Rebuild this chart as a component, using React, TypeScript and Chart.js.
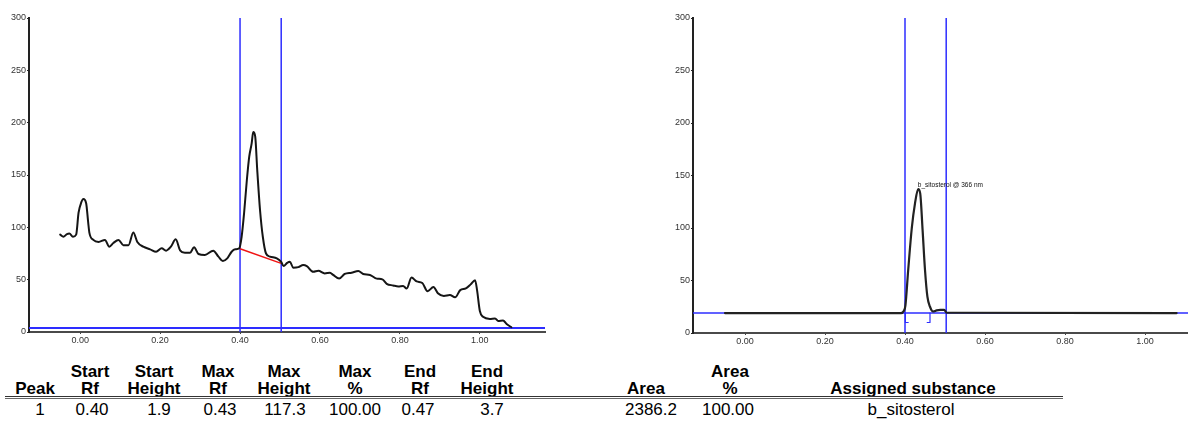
import React, { useEffect, useRef } from "react";
import { Chart, registerables } from "chart.js";

Chart.register(...registerables);

// ---------- data ----------
const leftRf = [
  -0.05, -0.042, -0.033, -0.027, -0.018, -0.01, -0.004, 0.003, 0.008, 0.015, 0.02, 0.023, 0.033, 0.046,
  0.062, 0.073, 0.083, 0.096, 0.108, 0.121, 0.133, 0.143, 0.158, 0.175, 0.19, 0.204, 0.215, 0.227, 0.239,
  0.25, 0.262, 0.275, 0.285, 0.296, 0.312, 0.333, 0.346, 0.357, 0.368, 0.379, 0.388, 0.398, 0.404, 0.41,
  0.417, 0.423, 0.429, 0.433, 0.438, 0.443, 0.45, 0.457, 0.465, 0.475, 0.492, 0.503, 0.509, 0.518, 0.525,
  0.533, 0.546, 0.558, 0.567, 0.583, 0.596, 0.612, 0.625, 0.633, 0.648, 0.662, 0.679, 0.696, 0.708, 0.725,
  0.742, 0.756, 0.767, 0.783, 0.796, 0.808, 0.817, 0.829, 0.842, 0.856, 0.869, 0.884, 0.895, 0.91, 0.925,
  0.938, 0.951, 0.965, 0.977, 0.988, 0.993, 1.0, 1.008, 1.025, 1.038, 1.046, 1.058, 1.067, 1.079,
];
const leftHeight = [
  93, 91, 93.5, 94, 91, 93, 114, 124, 127, 123, 105, 95, 88, 86,
  88, 81.5, 85, 88, 83, 83, 95, 86, 81.5, 79, 76.7, 80, 77.7, 81.5, 88.5,
  78, 75.8, 75.8, 81, 74.5, 73.6, 77.7, 72, 67.8, 70.4, 76.7, 79, 80, 91, 113,
  145, 167.5, 180, 191, 186.6, 155, 116.6, 91, 75, 72, 70.4, 67, 63, 66, 67,
  61.5, 62, 64, 63, 57.5, 58.5, 56, 56.7, 54.5, 51, 55.5, 56.7, 58.2, 55.4, 54.5,
  51, 50.3, 46, 44.5, 43.5, 44, 41.5, 52, 48.3, 46.8, 39, 43, 37, 34.4, 35.3,
  33.1, 40, 41.7, 45.5, 49.5, 40, 20, 14.5, 12.5, 13, 10.5, 11, 7.6, 4.5,
];

const rightRf = [
  -0.05, 0.39, 0.397, 0.401, 0.408, 0.417, 0.425, 0.433, 0.438, 0.444, 0.45, 0.456, 0.4625, 0.47,
  0.479, 0.488, 0.498, 0.504, 1.079,
];
const rightHeight = [
  19, 19, 21, 26, 60, 100, 123.5, 137, 133, 98, 60, 34.6, 25, 20.5,
  21.5, 22, 22, 19.3, 19,
];

// peak window & baselines
const windowRf = [0.4, 0.503];
const leftBaseline = 3.8;
const leftPeakBaseRf = [0.4, 0.503];
const leftPeakBaseHeight = [79.5, 65.6];
const rightBaseline = 19;
const rightBracketRf = [0.401, 0.4625];
const rightBracketLow = 10;
const peakLabel = "b_sitosterol @ 366 nm";
const peakLabelRf = 0.432;
const peakLabelHeight = 138;

// ticks
const xTickValues = [0, 0.2, 0.4, 0.6, 0.8, 1.0];
const yTickValues = [0, 50, 100, 150, 200, 250, 300];

// table
const headerRow1 = ["", "Start", "Start", "Max", "Max", "Max", "End", "End", "", "Area", ""];
const headerRow2 = ["Peak", "Rf", "Height", "Rf", "Height", "%", "Rf", "Height", "Area", "%", "Assigned substance"];
const dataRow = ["1", "0.40", "1.9", "0.43", "117.3", "100.00", "0.47", "3.7", "2386.2", "100.00", "b_sitosterol"];

const headerCenters = [35, 90, 154, 218, 284, 355, 420, 487, 646, 730, 913];
const dataCenters = [40, 92, 159, 220, 285, 355, 418, 492, 651, 728, 911];

// ---------- helpers ----------
const pts = (xs: number[], ys: number[]) => xs.map((x, i) => ({ x, y: ys[i] }));

function makeOptions(xMin: number, xMax: number, padRight: number, xAxisH: number, extra: any = {}) {
  const tickFont = { family: "'Liberation Sans', Arial, sans-serif", size: 9 };
  return {
    animation: false,
    responsive: false,
    maintainAspectRatio: false,
    layout: { padding: { top: 18, right: padRight, left: 0, bottom: 0 } },
    plugins: { legend: { display: false }, tooltip: { enabled: false } },
    elements: { point: { radius: 0 }, line: { borderJoinStyle: "round", borderCapStyle: "round" } },
    scales: {
      x: {
        type: "linear",
        min: xMin,
        max: xMax,
        afterBuildTicks: (axis: any) => {
          axis.ticks = xTickValues.map((v) => ({ value: v }));
        },
        afterFit: (axis: any) => {
          axis.height = xAxisH;
        },
        grid: { drawOnChartArea: false, drawTicks: true, tickLength: 2, color: "#444" },
        border: { display: true, color: "#4a4a4a", width: 2 },
        ticks: {
          font: tickFont,
          color: "#333",
          padding: 1,
          maxRotation: 0,
          autoSkip: false,
          callback: (v: any) => Number(v).toFixed(2),
        },
      },
      y: {
        type: "linear",
        min: 0,
        max: 300,
        afterBuildTicks: (axis: any) => {
          axis.ticks = yTickValues.map((v) => ({ value: v }));
        },
        afterFit: (axis: any) => {
          axis.width = 29;
        },
        grid: { drawOnChartArea: false, drawTicks: true, tickLength: 2, color: "#222" },
        border: { display: true, color: "#222", width: 2 },
        ticks: {
          font: tickFont,
          color: "#333",
          padding: 1,
          autoSkip: false,
          callback: (v: any) => String(v),
        },
      },
    },
    ...extra,
  };
}

const BLUE = "rgb(45,45,255)";
const BLACK = "#151515";

function LeftChart() {
  const ref = useRef<HTMLCanvasElement>(null);
  useEffect(() => {
    if (!ref.current) return;
    const chart = new Chart(ref.current, {
      type: "line",
      data: {
        datasets: [
          {
            data: pts(leftRf, leftHeight),
            borderColor: BLACK,
            borderWidth: 2,
            cubicInterpolationMode: "monotone",
            order: 0,
          },
          {
            data: pts(leftPeakBaseRf, leftPeakBaseHeight),
            borderColor: "rgb(240,20,20)",
            borderWidth: 1.5,
            order: 1,
          },
          {
            data: [
              { x: -1, y: leftBaseline },
              { x: 2, y: leftBaseline },
            ],
            borderColor: BLUE,
            borderWidth: 2,
            order: 2,
          },
          {
            data: [
              { x: windowRf[0], y: 0 },
              { x: windowRf[0], y: 300 },
            ],
            borderColor: BLUE,
            borderWidth: 1.5,
            order: 2,
          },
          {
            data: [
              { x: windowRf[1], y: 0 },
              { x: windowRf[1], y: 300 },
            ],
            borderColor: BLUE,
            borderWidth: 1.5,
            order: 2,
          },
        ],
      } as any,
      options: makeOptions(-0.128, 1.163, 15, 18) as any,
    });
    return () => chart.destroy();
  }, []);
  return (
    <canvas
      ref={ref}
      width={560}
      height={350}
      style={{ position: "absolute", left: 0, top: 0, width: 560, height: 350 }}
    />
  );
}

function RightChart() {
  const ref = useRef<HTMLCanvasElement>(null);
  useEffect(() => {
    if (!ref.current) return;
    const labelPlugin = {
      id: "peakLabel",
      afterDatasetsDraw(chart: any) {
        const { ctx, scales } = chart;
        const x = scales.x.getPixelForValue(peakLabelRf);
        const y = scales.y.getPixelForValue(peakLabelHeight);
        ctx.save();
        ctx.font = "6.5px 'Liberation Sans', Arial, sans-serif";
        ctx.fillStyle = "#111";
        ctx.textBaseline = "bottom";
        ctx.textAlign = "left";
        ctx.fillText(peakLabel, x, y);
        ctx.restore();
      },
    };
    const chart = new Chart(ref.current, {
      type: "line",
      data: {
        datasets: [
          {
            data: pts(rightRf, rightHeight),
            borderColor: "#222",
            borderWidth: 2.2,
            cubicInterpolationMode: "monotone",
            order: 0,
          },
          {
            data: [
              { x: -1, y: rightBaseline },
              { x: 2, y: rightBaseline },
            ],
            borderColor: BLUE,
            borderWidth: 1.4,
            order: 2,
          },
          {
            data: [
              { x: windowRf[0], y: 0 },
              { x: windowRf[0], y: 300 },
            ],
            borderColor: BLUE,
            borderWidth: 1.5,
            order: 2,
          },
          {
            data: [
              { x: windowRf[1], y: 0 },
              { x: windowRf[1], y: 300 },
            ],
            borderColor: BLUE,
            borderWidth: 1.5,
            order: 2,
          },
          {
            data: [
              { x: rightBracketRf[0], y: rightBaseline },
              { x: rightBracketRf[0], y: rightBracketLow },
              { x: rightBracketRf[0] + 0.007, y: rightBracketLow },
            ],
            borderColor: BLUE,
            borderWidth: 1.2,
            order: 1,
          },
          {
            data: [
              { x: rightBracketRf[1] - 0.007, y: rightBracketLow },
              { x: rightBracketRf[1], y: rightBracketLow },
              { x: rightBracketRf[1], y: rightBaseline },
            ],
            borderColor: BLUE,
            borderWidth: 1.2,
            order: 1,
          },
        ],
      } as any,
      options: makeOptions(-0.13, 1.1075, 0, 17) as any,
      plugins: [labelPlugin],
    });
    return () => chart.destroy();
  }, []);
  return (
    <canvas
      ref={ref}
      width={524}
      height={350}
      style={{ position: "absolute", left: 664, top: 0, width: 524, height: 350 }}
    />
  );
}

function Table() {
  const font = "'Liberation Sans', Arial, Helvetica, sans-serif";
  const cell = (text: string, cx: number, baseline: number, bold: boolean, key: string) => (
    <div
      key={key}
      style={{
        position: "absolute",
        left: cx,
        top: baseline - 14.4,
        transform: "translateX(-50%)",
        whiteSpace: "nowrap",
        fontFamily: font,
        fontSize: 17,
        lineHeight: "17px",
        fontWeight: bold ? 700 : 400,
        color: "#000",
      }}
    >
      {text}
    </div>
  );
  return (
    <>
      {headerRow1.map((t, i) => (t ? cell(t, headerCenters[i], 377, true, "h1" + i) : null))}
      {headerRow2.map((t, i) => cell(t, headerCenters[i], 394, true, "h2" + i))}
      <div style={{ position: "absolute", left: 5, top: 396, width: 1058, height: 1, background: "#333" }} />
      <div style={{ position: "absolute", left: 5, top: 398, width: 1058, height: 1, background: "#666" }} />
      {dataRow.map((t, i) => cell(t, dataCenters[i], 415, false, "d" + i))}
    </>
  );
}

export default function App() {
  return (
    <div
      style={{
        position: "absolute",
        left: 0,
        top: 0,
        width: 1188,
        height: 431,
        background: "#fff",
        overflow: "hidden",
      }}
    >
      <LeftChart />
      <RightChart />
      <Table />
    </div>
  );
}
